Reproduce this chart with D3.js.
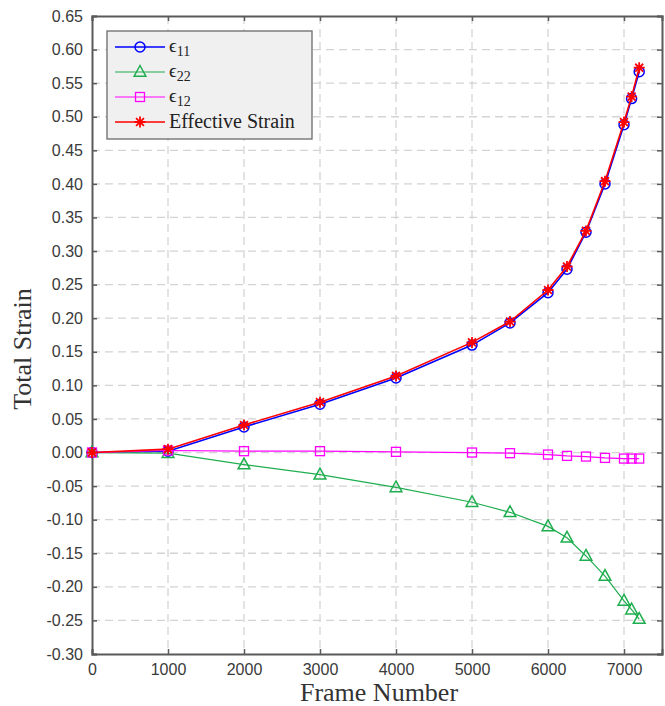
<!DOCTYPE html>
<html>
<head>
<meta charset="utf-8">
<script src="https://cdn.jsdelivr.net/npm/d3@7"></script>
<style>
  html, body { margin: 0; padding: 0; background: #fff; }
  svg { display: block; }
</style>
</head>
<body>
<div id="chart"></div>
<script>
// Strain components versus frame number
const frames = [0, 1000, 2000, 3000, 4000, 5000, 5500, 6000, 6250, 6500, 6750, 7000, 7100, 7200];
const eps11 = [0, 0.002, 0.038, 0.072, 0.111, 0.160, 0.193, 0.238, 0.273, 0.328, 0.400, 0.488, 0.527, 0.567];
const eps22 = [0, -0.001, -0.018, -0.033, -0.052, -0.074, -0.089, -0.110, -0.127, -0.154, -0.184, -0.221, -0.234, -0.248];
const eps12 = [0, 0.003, 0.002, 0.002, 0.001, 0.000, -0.001, -0.003, -0.005, -0.006, -0.008, -0.009, -0.009, -0.009];
const effStrain = [0, 0.005, 0.041, 0.075, 0.114, 0.164, 0.195, 0.242, 0.277, 0.330, 0.404, 0.492, 0.530, 0.573];

const xTicks = [0, 1000, 2000, 3000, 4000, 5000, 6000, 7000];
const yTicks = d3.range(-6, 14).map(i => +(i * 0.05).toFixed(2));

const seriesList = [
  { name: "11", values: eps11, color: "#0000ff", marker: "circle", width: 1.6 },
  { name: "22", values: eps22, color: "#1fae4f", marker: "triangle", width: 1.2 },
  { name: "12", values: eps12, color: "#ff00ff", marker: "square", width: 1.2 },
  { name: "Effective Strain", values: effStrain, color: "#ff0000", marker: "star", width: 1.6 }
];

const W = 665, H = 706;
const m = { left: 92, right: 3, top: 16, bottom: 52 };
const iw = W - m.left - m.right, ih = H - m.top - m.bottom;

const svg = d3.select("#chart").append("svg").attr("width", W).attr("height", H);
const g = svg.append("g").attr("transform", `translate(${m.left},${m.top})`);

const x = d3.scaleLinear().domain([0, 7500]).range([0, iw]);
const y = d3.scaleLinear().domain([-0.30, 0.65]).range([ih, 0]);

// grid
const grid = g.append("g").attr("stroke", "#d4d4d4").attr("stroke-width", 1.3).attr("stroke-dasharray", "8,5");
xTicks.slice(1).forEach(t => grid.append("line").attr("x1", x(t)).attr("x2", x(t)).attr("y1", 0).attr("y2", ih));
yTicks.slice(1, -1).forEach(t => grid.append("line").attr("x1", 0).attr("x2", iw).attr("y1", y(t)).attr("y2", y(t)));

// axes
const axisColor = "#5a5a5a";
const fmtY = d => d.toFixed(2);
const xAxis = g.append("g").attr("transform", `translate(0,${ih})`)
  .call(d3.axisBottom(x).tickValues(xTicks).tickSize(-5).tickPadding(10).tickFormat(d3.format("d")));
const xAxisTop = g.append("g").call(d3.axisTop(x).tickValues(xTicks).tickSize(-5).tickFormat(""));
const yAxis = g.append("g")
  .call(d3.axisLeft(y).tickValues(yTicks).tickSize(-5).tickPadding(9).tickFormat(fmtY));
const yAxisRight = g.append("g").attr("transform", `translate(${iw},0)`)
  .call(d3.axisRight(y).tickValues(yTicks).tickSize(-5).tickFormat(""));
[xAxis, xAxisTop, yAxis, yAxisRight].forEach(a => {
  a.select(".domain").attr("stroke", axisColor).attr("stroke-width", 2);
  a.selectAll(".tick line").attr("stroke", axisColor).attr("stroke-width", 1.5);
  a.selectAll(".tick text").attr("fill", "#3a3a3a").style("font-family", "Liberation Sans, Arial, sans-serif").style("font-size", "16px");
});

// markers
function drawMarker(sel, type, color, cx, cy) {
  if (type === "circle") {
    sel.append("circle").attr("cx", cx).attr("cy", cy).attr("r", 5)
      .attr("fill", "none").attr("stroke", color).attr("stroke-width", 1.5);
  } else if (type === "triangle") {
    const s = 6.5;
    sel.append("path").attr("d", `M${cx},${cy - s}L${cx + s * 0.9},${cy + s * 0.65}L${cx - s * 0.9},${cy + s * 0.65}Z`)
      .attr("fill", "none").attr("stroke", color).attr("stroke-width", 1.5);
  } else if (type === "square") {
    sel.append("rect").attr("x", cx - 4.5).attr("y", cy - 4.5).attr("width", 9).attr("height", 9)
      .attr("fill", "none").attr("stroke", color).attr("stroke-width", 1.3);
  } else {
    const r = 5.5, d = r * 0.72;
    sel.append("path")
      .attr("d", `M${cx - r},${cy}H${cx + r}M${cx},${cy - r}V${cy + r}M${cx - d},${cy - d}L${cx + d},${cy + d}M${cx - d},${cy + d}L${cx + d},${cy - d}`)
      .attr("stroke", color).attr("stroke-width", 1.8).attr("fill", "none");
  }
}

const line = d3.line().x(d => x(d[0])).y(d => y(d[1]));
seriesList.forEach(s => {
  const pts = frames.map((f, i) => [f, s.values[i]]);
  const sg = g.append("g");
  sg.append("path").datum(pts).attr("d", line).attr("fill", "none")
    .attr("stroke", s.color).attr("stroke-width", s.width);
  pts.forEach(p => drawMarker(sg, s.marker, s.color, x(p[0]), y(p[1])));
});

// axis titles
const serif = "Liberation Serif, Times New Roman, serif";
svg.append("text").attr("x", m.left + iw / 2 + 2).attr("y", 701).attr("text-anchor", "middle")
  .style("font-family", serif).style("font-size", "26px").attr("fill", "#333").text("Frame Number");
svg.append("text").attr("transform", `translate(31,${m.top + ih / 2 + 14}) rotate(-90)`).attr("text-anchor", "middle")
  .style("font-family", serif).style("font-size", "26px").attr("fill", "#333").text("Total Strain");

// legend
const lg = svg.append("g").attr("transform", "translate(107,31)");
lg.append("rect").attr("width", 205).attr("height", 108).attr("fill", "#f0f0f0")
  .attr("stroke", "#6a6a6a").attr("stroke-width", 1.3);
seriesList.forEach((s, i) => {
  const cy = 16 + i * 25;
  lg.append("line").attr("x1", 8).attr("x2", 58).attr("y1", cy).attr("y2", cy)
    .attr("stroke", s.color).attr("stroke-width", s.width);
  drawMarker(lg, s.marker, s.color, 33, cy);
  if (s.name.length === 2) {
    const t = lg.append("text").attr("x", 62).attr("y", cy + 5)
      .style("font-family", serif).style("font-size", "19px").attr("fill", "#222");
    t.append("tspan").text("\u03F5");
    t.append("tspan").attr("dy", 4).style("font-size", "14px").text(s.name);
  } else {
    lg.append("text").attr("x", 62).attr("y", cy + 6)
      .style("font-family", serif).style("font-size", "20px").attr("fill", "#222").text(s.name);
  }
});
</script>
</body>
</html>
